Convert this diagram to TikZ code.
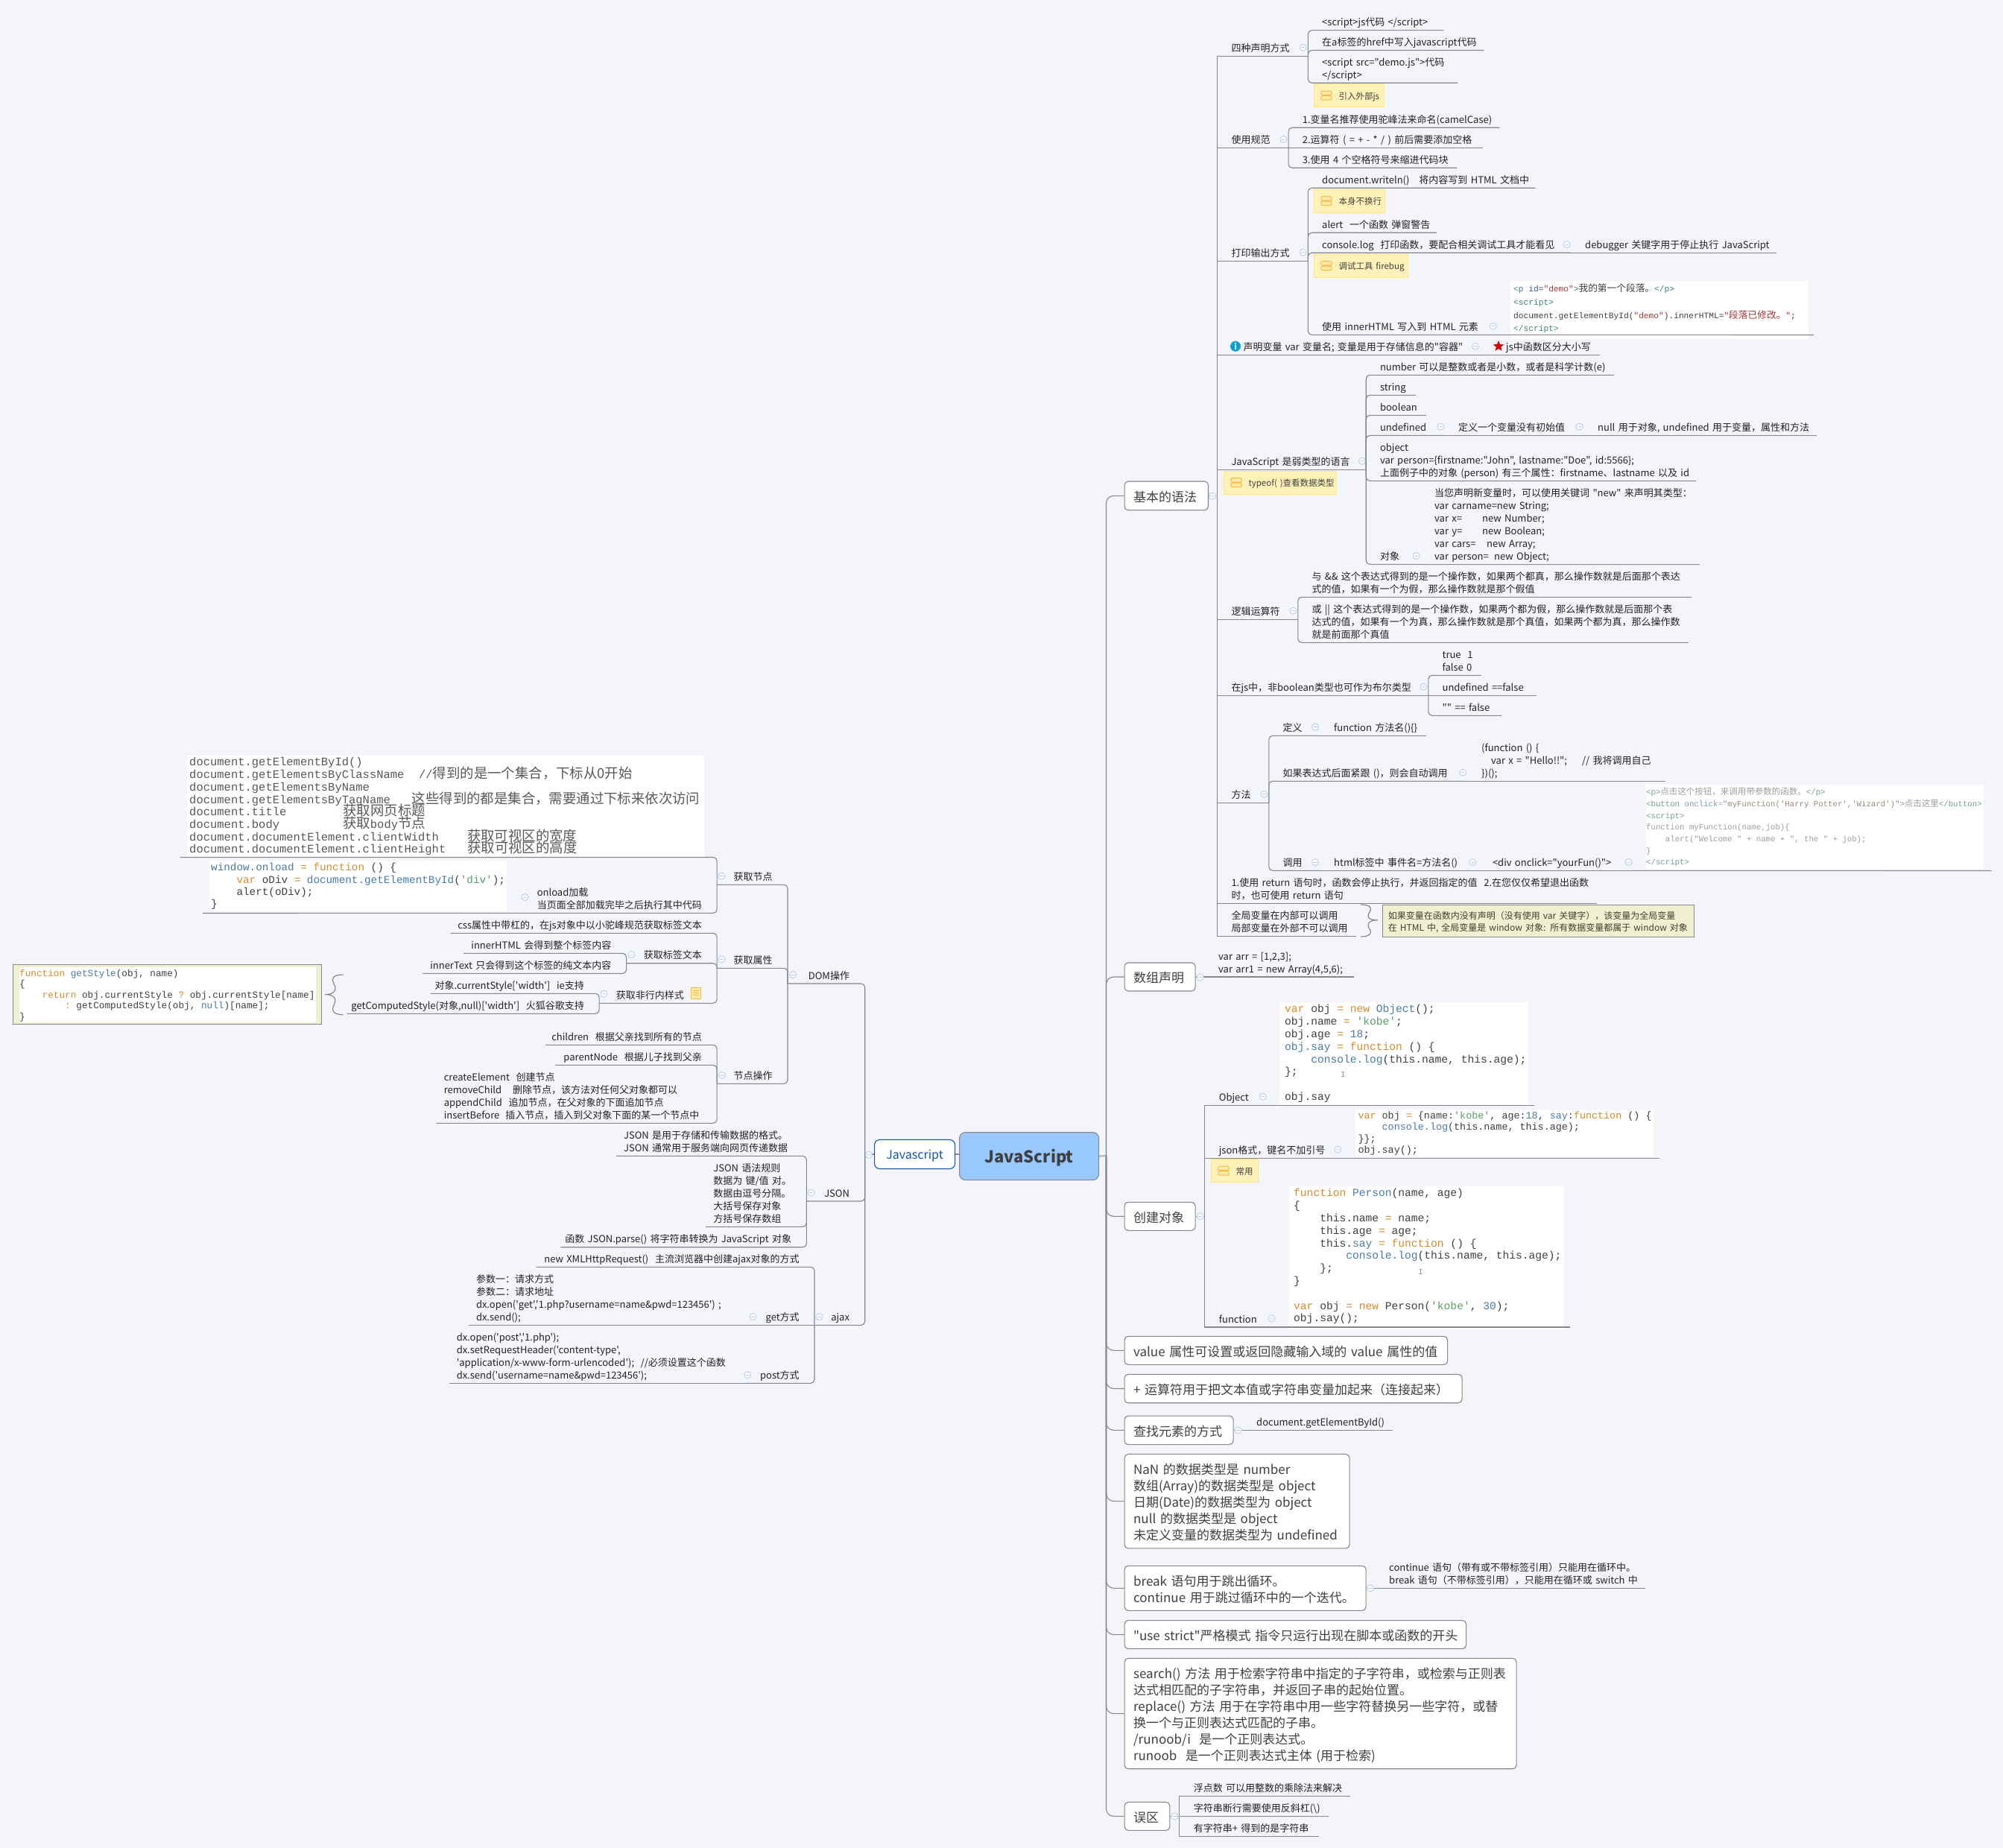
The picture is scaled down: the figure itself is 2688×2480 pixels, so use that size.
\documentclass[tikz,border=0pt]{standalone}
\usepackage{fontspec}
\usetikzlibrary{shapes.geometric}
\setmainfont{Noto Sans CJK SC}
\setmonofont{Liberation Mono}
\newfontfamily\cjk{Noto Sans CJK SC}
\definecolor{cpage}{HTML}{f3f5fb}
\definecolor{cline}{HTML}{85878a}
\definecolor{ctext}{HTML}{222222}
\definecolor{cbox}{HTML}{404040}
\definecolor{croot}{HTML}{99c8ff}
\definecolor{cblue}{HTML}{1155bb}
\definecolor{cfold}{HTML}{bccbee}
\definecolor{ctip}{HTML}{fff2b8}
\definecolor{ctipline}{HTML}{ffe680}
\definecolor{cicon}{HTML}{f5bb45}
\definecolor{ciconbg}{HTML}{ffe9a8}
\definecolor{csum}{HTML}{eff0d2}
\definecolor{ckw}{HTML}{d98b2b}
\definecolor{cfn}{HTML}{4a7ba6}
\definecolor{cstr}{HTML}{5b9e6a}
\definecolor{ctag}{HTML}{3e7f7a}
\definecolor{catt}{HTML}{3a5a9a}
\definecolor{cval}{HTML}{a33b3b}
\definecolor{ltag}{HTML}{6fa287}
\definecolor{latt}{HTML}{7f9aa8}
\definecolor{lval}{HTML}{9a8a7a}
\newcommand\fsz[2]{\cjk\fontsize{#1}{#2}\selectfont}
\newcommand\zh[2][12.7]{{\cjk\fontsize{#1}{#1}\selectfont #2}}
\newcommand\kwd[1]{\textcolor{ckw}{#1}}
\newcommand\fnc[1]{\textcolor{cfn}{#1}}
\newcommand\strg[1]{\textcolor{cstr}{#1}}
\newcommand\tagc[1]{\textcolor{ctag}{#1}}
\newcommand\attc[1]{\textcolor{catt}{#1}}
\newcommand\valc[1]{\textcolor{cval}{#1}}
\newcommand\ltagc[1]{\textcolor{ltag}{#1}}
\newcommand\lattc[1]{\textcolor{latt}{#1}}
\newcommand\lvalc[1]{\textcolor{lval}{#1}}
\begin{document}
\begin{tikzpicture}[x=1pt,y=-1pt,
  edge/.style={draw=cline,line width=1.1pt},
  link/.style={edge,rounded corners=5pt},
  trunk/.style={edge,rounded corners=10pt},
  leaf/.style={anchor=south west,inner xsep=19pt,inner ysep=0.6pt,align=left,text=ctext,
    font=\fsz{13}{17},execute at begin node={\rightskip=-40pt plus 1fil\relax\strut},
    execute at end node=\strut},
  lleaf/.style={anchor=south east,inner xsep=10pt,inner ysep=0.6pt,align=right,text=ctext,
    font=\fsz{13}{17},execute at begin node={\leftskip=-40pt plus 1fil\relax\strut},
    execute at end node={\strut\hspace*{10.5pt}}},
  lblock/.style={anchor=south east,inner xsep=10pt,inner ysep=0.6pt,align=left,text=ctext,
    font=\fsz{13}{17},execute at begin node={\rightskip=-40pt plus 1fil\relax\strut},
    execute at end node=\strut},
  stub/.style={inner sep=0pt,minimum size=0pt},
  topic/.style={anchor=west,draw=cline,fill=white,line width=1.1pt,rounded corners=5pt,
    inner xsep=12pt,inner ysep=0pt,align=left,text=cbox,font=\fsz{17}{22},
    execute at begin node={\rightskip=-40pt plus 1fil\relax\rule{0pt}{22pt}},execute at end node=\strut},
  tipbox/.style={anchor=north west,fill=ctip,draw=ctipline,line width=0.8pt,inner xsep=8.7pt,
    inner ysep=0pt,minimum height=31pt,text height=12pt,text depth=1.4pt,align=left,text=cbox,font=\fsz{11.5}{15},
    execute at begin node={\rightskip=-40pt plus 1fil\relax\hspace*{24pt}},
    path picture={
      \draw[draw=cicon,fill=ciconbg,line width=1pt,rounded corners=1.5pt]
        ([shift={(9,-6)}]path picture bounding box.west) rectangle +(14.4,5.5)
        ([shift={(9,0.5)}]path picture bounding box.west) rectangle +(14.4,5.5);}},
  codebox/.style={anchor=north west,fill=white,inner ysep=0pt,align=left,text=cbox,
    execute at begin node={\rightskip=-60pt plus 1fil\relax\spaceskip=0pt\xspaceskip=0pt\lineskiplimit=-50pt\rule{0pt}{0.82\baselineskip}},
    execute at end node=\strut},
  sumbox/.style={anchor=north west,fill=csum,draw=cline,line width=0.9pt,inner ysep=0pt},
  fold/.style={circle,draw=cfold,fill=white,line width=0.9pt,minimum size=9pt,inner sep=0pt,
    path picture={\draw[cfold,line width=0.9pt] ([xshift=-2.6pt]path picture bounding box.center)
      -- ([xshift=2.6pt]path picture bounding box.center);}},
  caret/.style={inner sep=0pt,text=cline,font=\ttfamily\fontsize{10}{10}\selectfont},
  bracket/.style={draw=cline,line width=1.2pt}]

\useasboundingbox (0,0) rectangle (2688,2480);
\fill[cpage] (0,0) rectangle (2688,2480);

\node[anchor=north west,draw=cline,fill=croot,line width=1.1pt,rounded corners=8pt,minimum width=187pt,minimum height=64pt,
  inner sep=0pt,text height=22.6pt,text depth=4.4pt,text=cbox,font=\fsz{22}{26}\bfseries] (root) at (1287,1519) {JavaScript};
\node[anchor=west,draw=cblue,fill=white,line width=1.1pt,rounded corners=7pt,minimum width=108pt,minimum height=39pt,
  inner sep=0pt,text height=16pt,text depth=3.2pt,text=cblue,font=\fsz{16}{20}] (jsnode) at (1173,1549) {Javascript};
\node[stub] (mainhub) at (1484.5,1551) {};
\node[stub] (lefthub) at (1160.7,1549) {};

% right side
\node[topic,text width=88.4pt,minimum height=38.7pt] (basic) at (1508.5,665.3) {基本的语法};
\node[topic,text width=71pt,minimum height=38pt] (arrbox) at (1508.5,1311) {数组声明};
\node[topic,text width=71pt,minimum height=38pt] (creat) at (1508.5,1632.3) {创建对象};
\node[topic,text width=409.6pt,minimum height=38pt] (valuebox) at (1508.5,1812.3) {value 属性可设置或返回隐藏输入域的 value 属性的值};
\node[topic,text width=429pt,minimum height=38.4pt] (plusbox) at (1508.5,1863.5) {+ 运算符用于把文本值或字符串变量加起来（连接起来）};
\node[topic,text width=122pt,minimum height=38.5pt] (findbox) at (1508.5,1919.3) {查找元素的方式};
\node[topic,text width=278pt,minimum height=126.4pt] (nanbox) at (1508.5,2014.6) {NaN 的数据类型是 number\\数组(Array)的数据类型是 object\\日期(Date)的数据类型为 object\\null 的数据类型是 object\\未定义变量的数据类型为 undefined};
\node[topic,text width=300pt,minimum height=60pt] (brkbox) at (1508.5,2131.3) {break 语句用于跳出循环。\\continue 用于跳过循环中的一个迭代。};
\node[topic,text width=434.5pt,minimum height=38pt] (strictbox) at (1508.5,2193.6) {"use strict"严格模式 指令只运行出现在脚本或函数的开头};
\node[topic,text width=502pt,minimum height=148.3pt] (srchbox) at (1508.5,2299.6) {search() 方法 用于检索字符串中指定的子字符串，或检索与正则表\\达式相匹配的子字符串，并返回子串的起始位置。\\replace() 方法 用于在字符串中用一些字符替换另一些字符，或替\\换一个与正则表达式匹配的子串。\\/runoob/i\ \ 是一个正则表达式。\\runoob\ \ 是一个正则表达式主体 (用于检索)};
\node[topic,text width=36.8pt,minimum height=38pt] (wrong) at (1508.5,2437.4) {误区};

\node[stub] (basichub) at (1633.3,665.3) {};
\node[stub] (creathub) at (1616.7,1632.3) {};
\node[stub] (wronghub) at (1582.6,2437.4) {};

\node[leaf,text width=83.7pt] (decl) at (1633.3,75.3) {四种声明方式};
\node[leaf,text width=144pt] (decl1) at (1755,40.7) {<script>js代码 </script>};
\node[leaf,text width=198pt] (decl2) at (1755,67.5) {在a标签的href中写入javascript代码};
\node[leaf,text width=163pt] (decl3) at (1755,111.3) {<script src="demo.js">代码\\</script>};
\node[tipbox,text width=75.9pt] (tipdecl) at (1763.4,112.3) {引入外部js};

\node[leaf,text width=57.4pt] (usage) at (1633.3,198.3) {使用规范};
\node[leaf,text width=245.3pt] (usage1) at (1728.7,171.3) {1.变量名推荐使用驼峰法来命名(camelCase)};
\node[leaf,text width=223.3pt] (usage2) at (1728.7,198.3) {2.运算符 ( = + - * / ) 前后需要添加空格};
\node[leaf,text width=188pt] (usage3) at (1728.7,225.3) {3.使用 4 个空格符号来缩进代码块};

\node[leaf,text width=83.7pt] (print) at (1633.3,350.3) {打印输出方式};
\node[leaf,text width=267pt] (print1) at (1755,252.3) {document.writeln()\ \ \ 将内容写到 HTML 文档中};
\node[tipbox,text width=77.2pt] (tipline) at (1763.4,253.7) {本身不换行};
\node[leaf,text width=134.7pt] (print2) at (1755,312.3) {alert\ \ 一个函数 弹窗警告};
\node[leaf,text width=315pt] (print3) at (1755,339.3) {console.log\ \ 打印函数，要配合相关调试工具才能看见};
\node[leaf,text width=238pt] (print31) at (2108,339.3) {debugger 关键字用于停止执行 JavaScript};
\node[tipbox,text width=108.6pt] (tipfire) at (1763.4,340.7) {调试工具 firebug};
\node[leaf,text width=216pt] (print4) at (1755,449.3) {使用 innerHTML 写入到 HTML 元素};
\node[codebox,inner xsep=4pt,text width=392pt,minimum height=69.7pt,font=\ttfamily\fontsize{11.2}{17.7}\selectfont] (democode) at (2027,377) {\tagc{<p}~\attc{id}=\valc{"demo"}\tagc{>}\zh{我的第一个段落。}\tagc{</p>}\\\tagc{<script>}\\document.getElementById(\valc{"demo"}).innerHTML=\valc{"\zh{段落已修改。}"};\\\tagc{</script>}\rule[-10pt]{0pt}{10pt}};
\node[stub] (demoend) at (2434,449.3) {};

\node[leaf,text width=314.7pt] (var1) at (1633.3,476.3) {\hspace*{16pt}声明变量 var 变量名; 变量是用于存储信息的"容器"};
\node[leaf,text width=122.5pt] (var2) at (1986,476.3) {\hspace*{16pt}js中函数区分大小写};
\node[circle,fill=cblue!55!cyan,inner sep=0pt,minimum size=14pt,text=white,font=\fsz{11}{11}\bfseries] (infoicon) at (1658,464.7) {i};
\node[star,star points=5,star point ratio=2.25,fill=red!85!black,inner sep=0pt,minimum size=15pt] (staricon) at (2011,464.7) {};

\node[leaf,text width=161.5pt] (weak) at (1633.3,630.3) {JavaScript 是弱类型的语言};
\node[tipbox,text width=133.6pt] (tiptype) at (1642.4,631.7) {typeof( )查看数据类型};
\node[leaf,text width=294.6pt] (weak1) at (1832.8,503.3) {number 可以是整数或者是小数，或者是科学计数(e)};
\node[leaf,text width=28.8pt] (weak2) at (1832.8,530.3) {string};
\node[leaf,text width=42.6pt] (weak3) at (1832.8,557.3) {boolean};
\node[leaf,text width=67.2pt] (weak4) at (1832.8,584.3) {undefined};
\node[leaf,text width=149pt] (weak41) at (1938,584.3) {定义一个变量没有初始值};
\node[leaf,text width=275pt] (weak42) at (2125,584.3) {null 用于对象, undefined 用于变量，属性和方法};
\node[leaf,text width=404.8pt] (weak5) at (1832.8,645.3) {object\\var person=\{firstname:"John", lastname:"Doe", id:5566\};\\上面例子中的对象 (person) 有三个属性：firstname、lastname 以及 id};
\node[leaf,text width=35.2pt] (weak6) at (1832.8,757.3) {对象};
\node[leaf,text width=337pt] (weak61) at (1906,757.3) {当您声明新变量时，可以使用关键词 "new" 来声明其类型：\\var carname=new String;\\\makebox[64pt][l]{var x=}new Number;\\\makebox[64pt][l]{var y=}new Boolean;\\\makebox[70pt][l]{var cars=}new Array;\\\makebox[80pt][l]{var person=}new Object;};

\node[leaf,text width=70.1pt] (logic) at (1633.3,831.3) {逻辑运算符};
\node[leaf,text width=490.1pt] (logic1) at (1741.4,801.3) {与 \&\& 这个表达式得到的是一个操作数，如果两个都真，那么操作数就是后面那个表达\\式的值，如果有一个为假，那么操作数就是那个假值};
\node[leaf,text width=486pt] (logic2) at (1741.4,862.3) {或 || 这个表达式得到的是一个操作数，如果两个都为假，那么操作数就是后面那个表\\达式的值，如果有一个为真，那么操作数就是那个真值，如果两个都为真，那么操作数\\就是前面那个真值};

\node[leaf,text width=245.1pt] (bool) at (1633.3,933.3) {在js中，非boolean类型也可作为布尔类型};
\node[leaf,text width=32.9pt] (bool1) at (1916.4,906.3) {true\ \ 1\\false 0};
\node[leaf,text width=106.9pt] (bool2) at (1916.4,933.3) {undefined ==false};
\node[leaf,text width=60.6pt] (bool3) at (1916.4,960.3) {"" == false};

\node[leaf,text width=31.1pt] (func) at (1633.3,1077.3) {方法};
\node[leaf,text width=30.6pt] (func1) at (1702.4,987.3) {定义};
\node[leaf,text width=104.6pt] (func11) at (1771,987.3) {function 方法名()\{\}};
\node[leaf,text width=228.6pt] (func2) at (1702.4,1048.3) {如果表达式后面紧跟 ()，则会自动调用};
\node[leaf,text width=228pt] (func21) at (1969,1048.3) {(function () \{\\\hspace*{13pt}var x = "Hello!!";\hspace*{20pt}// 我将调用自己\\\})();};
\node[leaf,text width=30.6pt] (func3) at (1702.4,1168.3) {调用};
\node[leaf,text width=174.8pt] (func31) at (1771,1168.3) {html标签中 事件名=方法名()};
\node[leaf,text width=169pt] (func32) at (1983.8,1168.3) {<div onclick="yourFun()">};
\node[codebox,inner xsep=0pt,text width=453pt,minimum height=113pt,text=black!38,font=\ttfamily\fontsize{10.7}{15.7}\selectfont] (callcode) at (2209,1053) {\ltagc{<p>}\zh[11.5]{点击这个按钮，来调用带参数的函数。}\ltagc{</p>}\\\ltagc{<button}~\lattc{onclick}=\lvalc{"myFunction('Harry Potter','Wizard')"}\ltagc{>}\zh[11.5]{点击这里}\ltagc{</button>}\\\ltagc{<script>}\\function myFunction(name,job)\{\\~~~~alert("Welcome " + name + ", the " + job);\\\}\\\ltagc{</script>}};
\node[stub] (callend) at (2672.5,1168.3) {};

\node[leaf,text width=471.2pt] (ret) at (1633.3,1212.7) {1.使用 return 语句时，函数会停止执行，并返回指定的值\ \ 2.在您仅仅希望退出函数\\时，也可使用 return 语句};
\node[leaf,text width=148.3pt] (glob) at (1633.3,1256.7) {全局变量在内部可以调用\\局部变量在外部不可以调用};
\node[sumbox,inner xsep=7.5pt,text width=403pt,minimum height=42.4pt,align=left,text=black!70!olive,font=\fsz{12}{16}] (globnote) at (1855,1214.3) {\rule{0pt}{13pt}如果变量在函数内没有声明（没有使用 var 关键字），该变量为全局变量\\在 HTML 中, 全局变量是 window 对象: 所有数据变量都属于 window 对象};
\draw[bracket] (1826,1214) .. controls (1838,1214) and (1842,1218) .. (1838,1224) .. controls (1834,1230) and (1835,1234.7) .. (1849,1234.7)
  .. controls (1835,1234.7) and (1834,1241) .. (1838,1247) .. controls (1842,1252) and (1838,1257) .. (1826,1257);

\node[leaf,text width=162.7pt] (arr1) at (1616,1311) {var arr = [1,2,3];\\var arr1 = new Array(4,5,6);};

\node[leaf,text width=46pt] (objnode) at (1616.7,1483.3) {Object};
\node[codebox,inner xsep=6.2pt,text width=320.2pt,minimum height=135.7pt,font=\ttfamily\fontsize{14.6}{16.8}\selectfont] (objcode) at (1717.8,1345) {\kwd{var} obj \kwd{=} \kwd{new} \fnc{Object}();\\obj.name \kwd{=} \strg{'kobe'};\\obj.age \kwd{=} \fnc{18};\\\fnc{obj.say} \kwd{=} \kwd{function} () \{\\~~~~\fnc{console.log}(this.name, this.age);\\\};\\\mbox{}\\obj.say};
\node[stub] (objend) at (2059.6,1483.3) {};
\node[leaf,text width=146.6pt] (jsonfmt) at (1616.7,1554.3) {json格式，键名不加引号};
\node[codebox,inner xsep=3.5pt,text width=392.5pt,minimum height=63.7pt,font=\ttfamily\fontsize{13.4}{15.4}\selectfont] (jsoncode) at (1818.8,1488.3) {\kwd{var} obj \kwd{=} \{name:\strg{'kobe'}, age:\fnc{18}, \fnc{say}:\kwd{function} () \{\\~~~~\fnc{console.log}(this.name, this.age);\\\}\};\\obj.say();};
\node[stub] (jsonend) at (2227.5,1554.3) {};
\node[tipbox,text width=44.9pt] (tipuse) at (1625.4,1555.3) {常用};
\node[leaf,text width=58pt] (funcnode) at (1616.7,1781) {function};
\node[codebox,inner xsep=6pt,text width=357pt,minimum height=187pt,font=\ttfamily\fontsize{14.6}{16.8}\selectfont] (funccode) at (1730,1592) {\kwd{function} \fnc{Person}(name, age)\\\{\\~~~~this.name \kwd{=} name;\\~~~~this.age \kwd{=} age;\\~~~~this.\fnc{say} \kwd{=} \kwd{function} () \{\\~~~~~~~~\fnc{console.log}(this.name, this.age);\\~~~~\};\\\}\\\mbox{}\\\kwd{var} obj \kwd{=} \kwd{new} Person(\strg{'kobe'}, \fnc{30});\\obj.say();\rule[-10pt]{0pt}{10pt}};
\node[stub] (funcend) at (2107.5,1781) {};
\node[caret] (caret1) at (1802.4,1442) {I};
\node[caret] (caret2) at (1906.5,1707.3) {I};

\node[leaf,text width=163.3pt] (find1) at (1667,1919.3) {document.getElementById()};
\node[leaf,text width=324.6pt] (brk1) at (1845,2131.3) {continue 语句（带有或不带标签引用）只能用在循环中。\\break 语句（不带标签引用），只能用在循环或 switch 中};
\node[leaf,text width=191pt] (wrong1) at (1582.6,2410.4) {浮点数 可以用整数的乘除法来解决};
\node[leaf,text width=162pt] (wrong2) at (1582.6,2437.4) {字符串断行需要使用反斜杠(\textbackslash)};
\node[leaf,text width=148.7pt] (wrong3) at (1582.6,2464.4) {有字符串+ 得到的是字符串};

% left side
\node[lleaf,text width=83.3pt] (dom) at (1160.7,1320) {DOM操作};
\node[lleaf,text width=74.9pt] (getnode) at (1057.4,1187.3) {获取节点};
\node[codebox,inner xsep=3.3pt,text width=687.7pt,minimum height=132.7pt,text=black!65,font=\ttfamily\fontsize{15.5}{16.7}\selectfont] (nodecode) at (250.7,1014) {document.getElementById()\\document.getElementsByClassName\hspace*{19.7pt}//\zh[18.4]{得到的是一个集合，下标从0开始}\\document.getElementsByName\\document.getElementsByTagName\hspace*{29pt}\zh[18.4]{这些得到的都是集合，需要通过下标来依次访问}\\document.title\hspace*{76pt}\zh[18.4]{获取网页标题}\\document.body\hspace*{85pt}\zh[18.4]{获取}body\zh[18.4]{节点}\\document.documentElement.clientWidth\hspace*{38pt}\zh[18.4]{获取可视区的宽度}\\document.documentElement.clientHeight\hspace*{29pt}\zh[18.4]{获取可视区的高度}};
\node[stub] (nodeend) at (242,1150.3) {};
\node[lblock,inner xsep=19pt,text width=222.5pt] (onload) at (962.5,1225.3) {onload加载\\当页面全部加载完毕之后执行其中代码};
\node[codebox,inner xsep=2pt,text width=395pt,minimum height=67.7pt,font=\ttfamily\fontsize{14.3}{16.4}\selectfont] (onloadcode) at (281,1155) {\fnc{window.onload} \kwd{=} \kwd{function} () \{\\~~~~\kwd{var} oDiv \kwd{=} \fnc{document.getElementById}(\strg{'div'});\\~~~~alert(oDiv);\\\}};
\node[stub] (onloadend) at (272,1225.3) {};

\node[lleaf,text width=74.9pt] (getattr) at (1057.4,1299.3) {获取属性};
\node[lleaf,text width=337.2pt] (attr1) at (962.5,1252.3) {css属性中带杠的，在js对象中以小驼峰规范获取标签文本};
\node[lleaf,text width=101.5pt] (attr2) at (962.5,1292.7) {获取标签文本};
\node[lleaf,text width=198.6pt] (attr21) at (841,1279.3) {innerHTML 会得到整个标签内容};
\node[lleaf,text width=253.2pt] (attr22) at (841,1306.3) {innerText 只会得到这个标签的纯文本内容};
\node[lleaf,text width=138pt] (attr3) at (962.5,1346.3) {获取非行内样式\hspace*{24pt}};
\node[lleaf,text width=206pt] (attr31) at (804.5,1333.3) {对象.currentStyle['width']\ \ ie支持};
\node[lleaf,text width=318.5pt] (attr32) at (804.5,1360.3) {getComputedStyle(对象,null)['width']\ \ 火狐谷歌支持};
\node[draw=cicon,fill=ciconbg,line width=0.8pt,inner sep=0pt,minimum width=13pt,minimum height=15.7pt,
  path picture={\draw[cicon,line width=0.9pt] ([shift={(-4,-3)}]path picture bounding box.center) -- +(8,0)
    ([shift={(-4,0)}]path picture bounding box.center) -- +(8,0) ([shift={(-4,3)}]path picture bounding box.center) -- +(8,0);}] (noteicon) at (933.8,1332.8) {};
\node[sumbox,minimum width=414.4pt,minimum height=80pt,inner sep=0pt] (stylebox) at (16.6,1294.3) {};
\node[codebox,inner xsep=0.5pt,text width=397.5pt,minimum height=73pt,font=\ttfamily\fontsize{12.7}{14.5}\selectfont] (stylecode) at (25.5,1298) {\kwd{function} \fnc{getStyle}(obj, name)\\\{\\~~~~\kwd{return} obj.currentStyle \kwd{?} obj.currentStyle[name]\\~~~~~~~~\kwd{:} getComputedStyle(obj, \fnc{null})[name];\\\}};
\draw[bracket] (460.7,1308) .. controls (448,1308) and (444,1312) .. (448,1320) .. controls (452,1328) and (450,1334.6) .. (436,1334.6)
  .. controls (450,1334.6) and (452,1341) .. (448,1349) .. controls (444,1357) and (448,1361.7) .. (460.7,1361.7);

\node[lleaf,text width=74.9pt] (ops) at (1057.4,1454.3) {节点操作};
\node[lleaf,text width=210.1pt] (ops1) at (962.5,1402.3) {children\ \ 根据父亲找到所有的节点};
\node[lleaf,text width=196.7pt] (ops2) at (962.5,1429.3) {parentNode\ \ 根据儿子找到父亲};
\node[lblock,text width=356.5pt] (ops3) at (962.5,1507.3) {createElement\ \ 创建节点\\removeChild\hspace*{15pt}删除节点，该方法对任何父对象都可以\\appendChild\ \ 追加节点，在父对象的下面追加节点\\insertBefore\hspace*{8pt}插入节点，插入到父对象下面的某一个节点中};

\node[lleaf,text width=58pt] (json) at (1160.7,1612) {JSON};
\node[lblock,text width=235.4pt] (json1) at (1082.7,1551.3) {JSON 是用于存储和传输数据的格式。\\JSON 通常用于服务端向网页传递数据};
\node[lblock,text width=115.2pt] (json2) at (1082.7,1646.3) {JSON 语法规则\\数据为 键/值 对。\\数据由逗号分隔。\\大括号保存对象\\方括号保存数组};
\node[lleaf,text width=310pt] (json3) at (1082.7,1673.7) {函数 JSON.parse() 将字符串转换为 JavaScript 对象};

\node[lleaf,text width=47.3pt] (ajax) at (1160.7,1778.3) {ajax};
\node[lleaf,text width=353.4pt] (ajax1) at (1093.4,1700.3) {new XMLHttpRequest()\ \ 主流浏览器中创建ajax对象的方式};
\node[lleaf,text width=68.4pt] (ajax2) at (1093.4,1778.3) {get方式};
\node[lblock,text width=355.8pt] (ajax21) at (1005,1778.3) {参数一：请求方式\\参数二：请求地址\\dx.open('get','1.php?username=name\&pwd=123456') ;\\dx.send();};
\node[lleaf,text width=75.4pt] (ajax3) at (1093.4,1856.3) {post方式};
\node[lblock,text width=375pt] (ajax31) at (998,1856.3) {dx.open('post','1.php');\\dx.setRequestHeader('content-type',\\'application/x-www-form-urlencoded');\ \ //必须设置这个函数\\dx.send('username=name\&pwd=123456');};

% connectors
\draw[draw=black!30,line width=2pt] (root.east) -- (mainhub);
\draw[edge] (root.west |- jsnode.east) -- (jsnode.east);
\draw[edge] (jsnode.west) -- (lefthub);
\foreach \c in {basic,arrbox,creat,valuebox,plusbox,findbox,nanbox,brkbox,strictbox,srchbox,wrong}
  \draw[trunk] (mainhub) |- (\c.west);
\draw[edge] (basic.east) -- (basichub);
\draw[edge] (creat.east) -- (creathub);
\draw[edge] (wrong.east) -- (wronghub);
\draw[edge] (arrbox.east) -- (arr1.south east);
\draw[edge] (findbox.east) -- (find1.south east);
\draw[edge] (brkbox.east) -- (brk1.south east);
\foreach \c in {decl,usage,print,var1,weak,logic,bool,func,ret,glob}
  \draw[edge] (basichub) |- (\c.south east);
\foreach \c in {objend,jsonend,funcend}
  \draw[edge] (creathub) |- (\c);
\foreach \c in {wrong1,wrong2,wrong3}
  \draw[edge] (wronghub) |- (\c.south east);
\foreach \p/\c in {decl/decl1,decl/decl2,decl/decl3,usage/usage1,usage/usage3,print/print1,print/print2,print/print3,print/print4,
    weak/weak1,weak/weak2,weak/weak3,weak/weak4,weak/weak5,weak/weak6,logic/logic1,logic/logic2,bool/bool1,bool/bool3,
    func/func1,func/func2,func/func3}
  \draw[link] (\p.south east) |- (\c.south east);
\foreach \p/\c in {usage/usage2,print3/print31,print4/demoend,var1/var2,weak4/weak41,weak41/weak42,weak6/weak61,bool/bool2,
    func1/func11,func2/func21,func3/func31,func31/func32,func32/callend}
  \draw[edge] (\p.south east) -- (\c.south east);
\foreach \c in {dom,json,ajax}
  \draw[trunk,rounded corners=5pt] (lefthub) |- (\c.south west);
\foreach \p/\c in {dom/getnode,dom/getattr,dom/ops,getnode/nodeend,getnode/onload,getattr/attr1,getattr/attr2,getattr/attr3,attr2/attr21,attr2/attr22,
    attr3/attr31,attr3/attr32,ops/ops1,ops/ops2,ops/ops3,json/json1,json/json2,json/json3,ajax/ajax1,ajax/ajax3}
  \draw[link] (\p.south west) |- (\c.south west);
\foreach \p/\c in {onload/onloadend,ajax/ajax2,ajax2/ajax21,ajax3/ajax31}
  \draw[edge] (\p.south west) -- (\c.south west);

\foreach \x/\y [count=\i] in {1627.3/665.7,1610.6/1311.5,1610.6/1632.3,1661.6/1919.3,1839/2131.3,1576/2437.5,1748.6/63.7,1722.5/187,1748.6/338.7,
    2102.6/328,2003.7/437.7,1980/464.7,1827.7/618.7,1933.3/572.7,2119.5/572.7,1900.6/746,1735.3/819.7,1910.3/921.7,1696.3/1065.7,1765/975.7,
    1963.3/1036.7,1765/1157,1976.3/1157,2185.4/1157,1694.8/1471.7,1795.3/1542.7,1706.5/1769.3,1166/1549.7,1064/1308,968.4/1175.7,704.4/1204,
    968.4/1287.3,847.4/1281,810.4/1333.7,968.9/1443,1088.7/1600.7,1099.7/1767,1010.4/1767,1003.3/1845}
  \node[fold] (fold\i) at (\x,\y) {};
\end{tikzpicture}
\end{document}
